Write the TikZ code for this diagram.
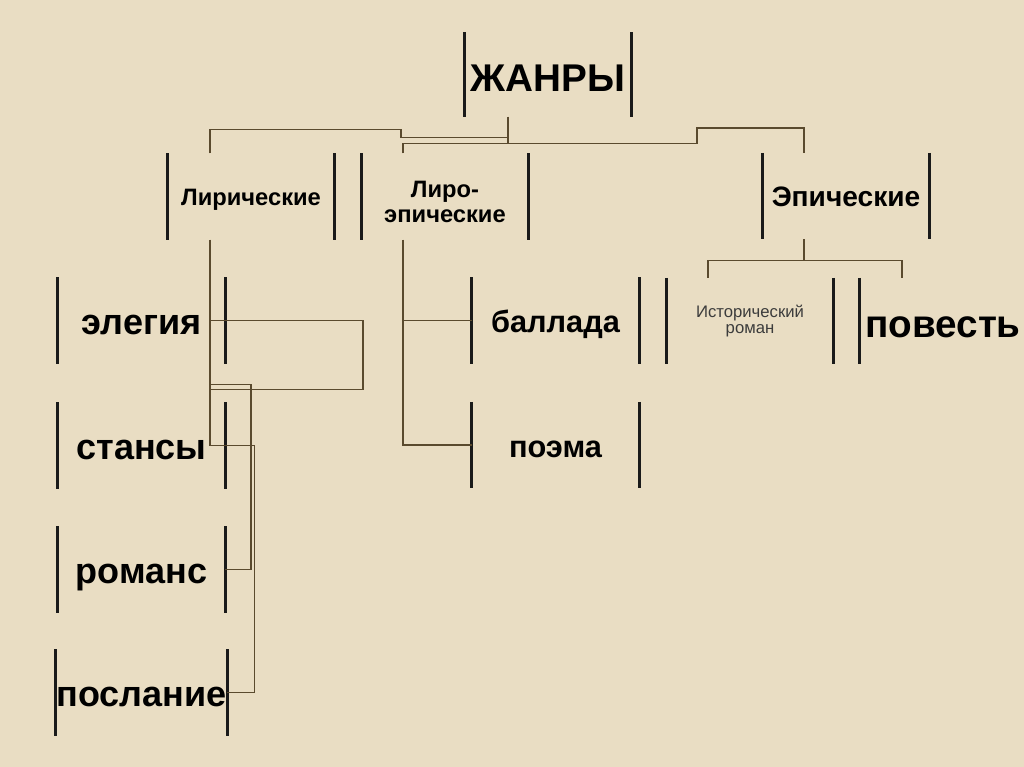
\documentclass[tikz,border=0pt]{standalone}
\usepackage{fontspec}
\setmainfont{Liberation Sans}
\usetikzlibrary{calc}
\definecolor{cpaper}{HTML}{E9DDC3}
\definecolor{cline}{HTML}{5A4A2E}
\definecolor{cbar}{HTML}{1A1A1A}
\definecolor{cgrey}{HTML}{3C3C3C}
\tikzset{
  every picture/.style={line width=0.8pt},
  genre/.style={minimum width=33.2mm, minimum height=17mm, inner sep=0pt, align=center},
  oneline/.style={text height=#1, text depth=0pt},
  head/.style={genre, oneline=19pt, font=\bfseries\fontsize{22}{24}\selectfont},
  group/.style={genre, oneline=10.8pt, font=\bfseries\fontsize{13.5}{14.2}\selectfont},
  work/.style={genre, oneline=16.4pt, font=\bfseries\fontsize{20.5}{22}\selectfont},
  worksmall/.style={genre, oneline=14.2pt, font=\bfseries\fontsize{17.5}{19}\selectfont},
  note/.style={genre, text=cgrey, font=\fontsize{9.5}{9}\selectfont},
  bar/.style={draw=cbar, line width=1.7pt},
  link/.style={draw=cline, line width=0.8pt},
}
\begin{document}
\begin{tikzpicture}[x=0.2mm, y=-0.2mm]
  \fill[cpaper] (0,0) rectangle (1024,767);
  \useasboundingbox (0,0) rectangle (1024,767);

  % kinds
  \node[head, minimum height=16.6mm] (zhanry) at (548,74.5) {ЖАНРЫ};
  \node[group] (lir)   at (251,196.5) {Лирические};
  \node[genre, font=\bfseries\fontsize{13.5}{14.2}\selectfont] (lirep) at (445,196.5) {\rule{0pt}{1.15em}Лиро-\\эпические};
  \node[group, oneline=12.5pt, font=\bfseries\fontsize{16}{18}\selectfont] (ep) at (846,196) {Эпические};

  % works
  \node[work]      (eleg)   at (141.5,320.5) {элегия};
  \node[work]      (stans)  at (141.5,445.5) {стансы};
  \node[work]      (roman)  at (141.5,569.5) {романс};
  \node[work]      (posl)   at (141.5,692.5) {послание};
  \node[worksmall] (ball)   at (555.5,320.5) {баллада};
  \node[worksmall] (poema)  at (555.5,445)   {поэма};
  \node[note]      (istrom) at (750,321)     {Исторический\\роман};
  \node[head]      (povest) at (943,321)     {повесть};

  \foreach \n in {zhanry, lir, lirep, ep, eleg, stans, roman, posl, ball, poema, istrom, povest}
    \draw[bar] (\n.north west) -- (\n.south west) (\n.north east) -- (\n.south east);

  % top level
  \draw[link] ($(zhanry.south)+(-40,0)$) -- ++(0,27);
  \draw[link] ($(lir.north)+(-41,0)$) -- ++(0,-24) -| ($(lirep.north)+(-44,-16)$) -- ++(107,0);
  \draw[link] ($(lirep.north)+(-42,0)$) -- ++(0,-10) -- ++(294,0) |- ($(ep.north)+(-42,-25)$) -- ($(ep.north)+(-42,0)$);

  % epic
  \draw[link] ($(ep.south)+(-42,0)$) -- ++(0,21) coordinate (epfork);
  \draw[link] ($(istrom.north)+(-42,0)$) |- (epfork) -| ($(povest.north)+(-41,0)$);

  % lyric-epic
  \coordinate (lirepdown) at ($(lirep.south)+(-42,0)$);
  \draw[link] (lirepdown) |- (poema.west);
  \draw[link] (ball.west) -- (ball.west -| lirepdown);

  % lyric
  \coordinate (lirdown) at ($(lir.south)+(-41,0)$);
  \draw[link] (lirdown) |- (stans.east) -- ++(29,0) |- (posl.east);
  \draw[link] (eleg.east -| lirdown) -- ++(153,0) -- ++(0,69) -- ++(-153,0);
  \draw[link] ($(eleg.east -| lirdown)+(0,64)$) -- ++(41,0) |- (roman.east);
\end{tikzpicture}
\end{document}
